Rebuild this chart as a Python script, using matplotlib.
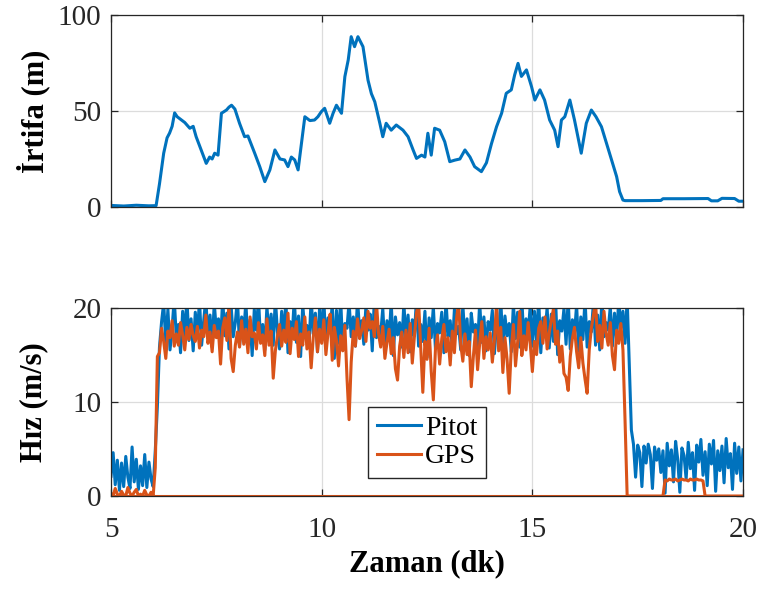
import numpy as np
import matplotlib
matplotlib.use("Agg")
import matplotlib.pyplot as plt

# ---------------- data ----------------
alt_time = [5.0, 5.3, 5.6, 5.9, 6.07, 6.15, 6.25, 6.33, 6.39, 6.45,
            6.51, 6.57, 6.63, 6.75, 6.87, 6.95, 7.02, 7.14, 7.26, 7.34,
            7.40, 7.46, 7.54, 7.62, 7.74, 7.80, 7.86, 7.94, 8.05, 8.17,
            8.25, 8.41, 8.53, 8.65, 8.77, 8.89, 9.01, 9.12, 9.20, 9.28,
            9.36, 9.44, 9.52, 9.60, 9.72, 9.83, 9.91, 9.99, 10.07, 10.19,
            10.27, 10.35, 10.47, 10.55, 10.63, 10.70, 10.78, 10.86, 10.98, 11.10,
            11.18, 11.26, 11.38, 11.45, 11.53, 11.65, 11.77, 11.93, 12.05, 12.17,
            12.25, 12.37, 12.45, 12.52, 12.60, 12.68, 12.80, 12.92, 13.04, 13.16,
            13.28, 13.40, 13.52, 13.63, 13.79, 13.91, 14.03, 14.15, 14.27, 14.38,
            14.50, 14.58, 14.66, 14.74, 14.86, 14.98, 15.06, 15.18, 15.29, 15.41,
            15.53, 15.61, 15.69, 15.77, 15.89, 16.00, 16.16, 16.28, 16.40, 16.51,
            16.64, 16.76, 16.88, 17.00, 17.07, 17.15, 17.20, 17.60, 18.05, 18.10,
            18.60, 19.17, 19.25, 19.40, 19.50, 19.80, 19.90, 20.00]
alt_value = [0.8, 0.5, 0.9, 0.6, 0.7, 12.0, 28.0, 36.0, 38.5, 42.0,
             49.0, 47.0, 46.0, 44.0, 41.0, 42.0, 36.6, 29.7, 22.7, 26.0,
             25.0, 28.0, 27.0, 48.8, 50.5, 52.0, 53.0, 51.0, 43.6, 36.6,
             37.0, 28.0, 21.0, 13.2, 19.3, 29.7, 25.0, 24.5, 21.0, 26.0,
             24.5, 19.3, 33.0, 47.0, 45.0, 45.3, 47.0, 49.6, 51.4, 43.6,
             48.8, 53.0, 48.8, 67.9, 76.6, 88.7, 83.5, 88.7, 83.5, 66.0,
             59.0, 54.8, 43.6, 36.6, 43.6, 40.0, 42.7, 40.0, 36.6, 29.7,
             25.3, 27.0, 26.0, 38.4, 27.0, 41.0, 40.0, 34.0, 23.6, 24.4,
             25.0, 29.7, 26.0, 21.0, 18.4, 23.0, 33.0, 41.8, 48.8, 59.2,
             61.0, 68.8, 74.8, 68.0, 71.4, 62.7, 55.7, 61.0, 55.7, 45.3,
             40.0, 31.4, 45.3, 47.0, 55.7, 45.3, 28.0, 43.6, 50.5, 47.0,
             41.8, 33.2, 24.5, 15.8, 8.0, 3.6, 3.3, 3.3, 3.4, 4.3,
             4.3, 4.4, 3.2, 3.2, 4.5, 4.4, 3.0, 3.0]

# speed samples every 0.05 min from 5.00 to 20.00 (one row = one minute)
pitot = [
    2.1, 4.6, 1.2, 3.8, 0.6, 3.5, 1.0, 4.2, 2.0, 0.8, 5.2, 1.5, 3.9, 0.7, 3.2, 1.1, 4.4, 0.9, 3.6, 1.8,
    1.0, 4.8, 9.5, 15.8, 18.5, 20.5, 16.2, 19.8, 15.5, 17.8, 21.0, 16.8, 18.2, 15.2, 19.6, 17.0, 21.0, 16.5, 18.8, 15.4,
    19.5, 17.2, 20.8, 16.0, 18.6, 21.0, 16.8, 19.2, 15.8, 20.5, 17.5, 18.8, 16.2, 21.0, 17.0, 19.4, 15.6, 20.2, 16.9, 18.4,
    21.0, 15.9, 19.0, 17.3, 20.6, 16.1, 18.7, 14.9, 19.8, 17.6, 21.0, 16.4, 18.2, 15.5, 20.1, 17.1, 19.3, 16.0, 21.0, 17.4,
    15.6, 19.6, 16.8, 20.8, 15.2, 18.5, 17.0, 21.0, 16.3, 19.1, 14.8, 20.3, 17.5, 18.1, 16.0, 21.0, 17.2, 19.4, 15.3, 20.0,
    16.7, 21.0, 15.8, 18.9, 17.3, 20.4, 14.6, 19.7, 16.2, 21.0, 15.5, 18.3, 17.8, 20.6, 16.9, 19.0, 15.9, 21.0, 17.4, 18.6,
    16.1, 20.2, 17.6, 19.3, 15.4, 21.0, 16.8, 18.0, 17.2, 19.9, 15.7, 18.6, 16.5, 20.7, 14.9, 19.0, 17.1, 18.4, 15.8, 20.5,
    16.6, 19.2, 15.3, 18.7, 17.0, 21.0, 15.9, 18.2, 16.4, 19.6, 14.7, 18.9, 16.8, 20.1, 15.6, 18.3, 17.3, 19.5, 15.2, 20.8,
    16.9, 18.6, 15.7, 19.8, 17.2, 18.0, 15.5, 20.3, 16.6, 18.8, 14.9, 19.4, 17.4, 18.2, 15.9, 20.6, 16.3, 19.0, 15.4, 18.5,
    17.6, 19.7, 15.1, 18.4, 16.8, 21.0, 15.6, 19.1, 17.0, 18.3, 15.3, 20.4, 16.7, 19.5, 15.8, 21.0, 16.2, 18.8, 17.3, 20.2,
    15.9, 19.6, 16.5, 21.0, 15.2, 18.9, 17.1, 20.0, 15.7, 19.3, 16.4, 21.0, 15.0, 18.6, 17.5, 19.9, 16.1, 21.0, 15.6, 18.7,
    17.2, 20.3, 15.4, 19.0, 16.6, 21.0, 15.8, 18.5, 17.4, 20.6, 16.0, 19.2, 15.5, 21.0, 16.9, 18.4, 17.6, 20.1, 15.9, 19.4,
    16.5, 21.0, 17.8, 19.6, 16.2, 21.0, 14.0, 7.0, 5.5, 2.0, 5.4, 4.6, 1.0, 5.3, 3.5, 5.5, 4.4, 0.8, 5.2, 3.8,
    5.0, 2.5, 4.8, 0.3, 5.6, 3.2, 4.9, 1.5, 5.8, 3.9, 0.4, 5.1, 4.3, 1.8, 5.7, 2.9, 4.6, 0.6, 5.4, 3.6,
    6.0, 2.2, 4.7, 1.1, 5.5, 3.4, 5.9, 0.5, 4.8, 2.7, 5.3, 1.4, 6.1, 3.0, 4.5, 0.7, 5.6, 2.4, 5.2, 1.6,
    4.9,
]
gps = [
    0.3, 0.0, 0.8, 0.2, 0.0, 0.5, 0.1, 0.0, 0.9, 0.3, 0.0, 0.4, 0.7, 0.0, 0.2, 0.0, 0.6, 0.1, 0.0, 0.4,
    0.0, 3.0, 14.8, 15.2, 17.8, 16.4, 14.6, 17.5, 16.8, 18.6, 15.9, 17.2, 16.0, 18.4, 17.1, 15.5, 17.9, 16.6, 18.2, 17.0,
    16.4, 18.0, 15.7, 17.6, 16.9, 19.2, 16.2, 17.4, 15.3, 18.1, 16.8, 17.5, 14.0, 17.8, 18.9, 16.5, 20.5, 14.6, 13.2, 16.0,
    17.4, 15.8, 18.6, 16.1, 17.7, 15.2, 19.0, 16.9, 17.3, 15.6, 18.4, 16.2, 17.1, 14.9, 18.8, 16.0, 17.5, 12.5, 15.4, 17.0,
    18.2, 15.9, 17.6, 16.3, 19.4, 15.1, 17.8, 16.6, 18.5, 14.8, 17.2, 16.0, 19.0, 15.6, 17.4, 13.6, 16.8, 18.9, 15.3, 17.7,
    16.2, 18.7, 15.0, 17.3, 19.3, 14.4, 17.9, 16.5, 13.8, 17.0, 15.4, 18.1, 12.6, 8.1, 14.2, 17.5, 15.9, 18.8, 16.7, 17.6,
    18.9, 16.4, 19.6, 17.8, 18.5, 16.9, 20.5, 17.2, 15.8, 18.0, 14.6, 16.3, 17.7, 15.1, 16.8, 13.5, 12.3, 15.9, 17.4, 14.7,
    17.6, 15.2, 18.3, 14.1, 16.9, 19.4, 20.6, 15.8, 11.0, 16.4, 14.5, 17.8, 13.2, 10.2, 15.6, 17.1, 14.0, 16.7, 18.2, 15.3,
    16.8, 13.9, 17.5, 15.2, 18.8, 20.6, 16.1, 14.3, 17.2, 15.0, 16.4, 11.6, 14.8, 17.6, 13.4, 16.2, 18.5, 14.6, 16.9, 15.5,
    17.3, 14.2, 16.6, 20.5, 15.4, 17.9, 13.1, 16.8, 14.5, 10.9, 15.7, 18.2, 13.8, 16.3, 19.6, 14.9, 17.0, 15.5, 18.4, 16.1,
    13.2, 16.4, 15.0, 17.8, 18.5, 16.2, 19.0, 15.6, 17.3, 18.7, 19.8, 16.1, 17.5, 14.2, 15.9, 13.0, 12.6, 11.2, 14.8, 16.7,
    17.9, 15.3, 13.6, 16.8, 14.1, 12.4, 10.9, 15.5, 17.8, 19.2, 20.6, 16.4, 18.1, 15.7, 19.6, 17.3, 16.0, 18.4, 14.9, 13.4,
    17.6, 16.2, 18.3, 15.5, 8.0, 0.0, 0.0, 0.0, 0.0, 0.0, 0.0, 0.0, 0.0, 0.0, 0.0, 0.0, 0.0, 0.0, 0.0, 0.0,
    0.0, 0.0, 0.0, 1.7, 1.6, 1.8, 1.7, 1.7, 1.8, 1.6, 1.7, 1.8, 1.7, 1.7, 1.6, 1.8, 1.7, 1.7, 1.8, 1.7,
    1.7, 1.6, 0.0, 0.0, 0.0, 0.0, 0.0, 0.0, 0.0, 0.0, 0.0, 0.0, 0.0, 0.0, 0.0, 0.0, 0.0, 0.0, 0.0, 0.0,
    0.0,
]
speed_time = np.linspace(5.0, 20.0, len(pitot))
gps_time = np.linspace(5.0, 20.0, len(gps))

x_ticks = [5, 10, 15, 20]
alt_ticks = [0, 50, 100]
speed_ticks = [0, 10, 20]

# ---------------- style ----------------
BLUE = "#0072BD"
ORANGE = "#D95319"
SERIF = ["Liberation Serif", "DejaVu Serif"]
plt.rcParams["font.family"] = SERIF

fig = plt.figure(figsize=(7.62, 5.90), dpi=100)
ax1 = fig.add_axes([0.1457, 0.6492, 0.8294, 0.3254])
ax2 = fig.add_axes([0.1457, 0.1593, 0.8294, 0.3195])

TICK_FS = 21
LABEL_FS = 22


def style(ax):
    ax.set_xlim(5, 20)
    ax.set_xticks(x_ticks)
    ax.grid(True, color="#dcdcdc", linewidth=0.9)
    ax.set_axisbelow(True)
    ax.tick_params(direction="in", top=True, right=True, length=5,
                   width=0.9, color="#262626", labelcolor="#262626",
                   labelsize=TICK_FS)
    ax.tick_params(axis="y", pad=7)
    ax.tick_params(axis="x", pad=15)
    for s in ax.spines.values():
        s.set_color("#262626")
        s.set_linewidth(0.9)


# top: altitude
ax1.plot(alt_time, alt_value, color=BLUE, linewidth=2.2)
style(ax1)
ax1.set_ylim(0, 100)
ax1.set_yticks(alt_ticks)
ax1.set_xticklabels([])
ax1.set_ylabel("İrtifa (m)", fontsize=LABEL_FS, fontweight="bold", va="center")
ax1.yaxis.set_label_coords(-0.123, 0.5)

# bottom: speed
ax2.plot(speed_time, pitot, color=BLUE, linewidth=2.2, label="Pitot")
ax2.plot(gps_time, gps, color=ORANGE, linewidth=2.2, label="GPS")
ax2.plot([x_ticks[0], x_ticks[-1]], [0, 0], color=ORANGE, linewidth=2.2)
style(ax2)
ax2.set_ylim(0, 20)
ax2.set_yticks(speed_ticks)
ax2.set_ylabel("Hız (m/s)", fontsize=LABEL_FS, fontweight="bold", va="center")
ax2.yaxis.set_label_coords(-0.123, 0.5)
ax2.set_xlabel("Zaman (dk)", fontsize=LABEL_FS, fontweight="bold", va="center")
ax2.xaxis.set_label_coords(0.5, -0.36)
leg = ax2.legend(loc="center", bbox_to_anchor=(0.50, 0.284), fontsize=20,
                 frameon=True, fancybox=False, edgecolor="#262626",
                 framealpha=1, handlelength=1.6, handletextpad=0.15,
                 borderpad=0.3, labelspacing=0.1, borderaxespad=0)
leg.get_frame().set_linewidth(1.0)

fig.savefig("out.png", dpi=100)
